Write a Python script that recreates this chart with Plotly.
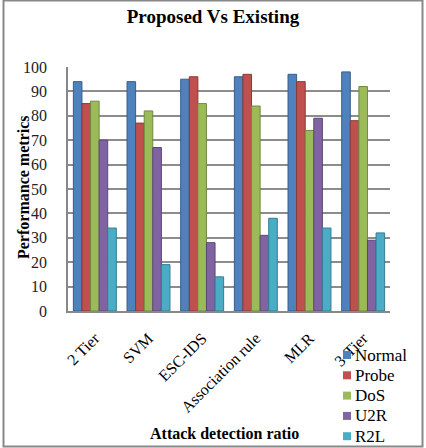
import plotly.graph_objects as go

categories = ["2 Tier", "SVM", "ESC-IDS", "Association rule", "MLR", "3-Tier"]
normal = [94, 94, 95, 96, 97, 98]
probe = [85, 77, 96, 97, 94, 78]
dos = [86, 82, 85, 84, 74, 92]
u2r = [70, 67, 28, 31, 79, 29]
r2l = [34, 19, 14, 38, 34, 32]
y_ticks = list(range(0, 101, 10))

series = [
    ("Normal", normal, "#4F81BD", "#385D8A"),
    ("Probe", probe, "#C0504D", "#8C3836"),
    ("DoS", dos, "#9BBB59", "#71893F"),
    ("U2R", u2r, "#8064A2", "#5C4776"),
    ("R2L", r2l, "#4BACC6", "#357D91"),
]

fig = go.Figure()
for name, vals, col, edge in series:
    fig.add_trace(go.Bar(x=categories, y=vals, name=name, showlegend=False,
                         marker=dict(color=col, line=dict(color=edge, width=1))))

L, R, T, B = 68, 36, 67, 137
W, H = 426, 448
pw, ph = W - L - R, H - T - B

def px(x):
    return (x - L) / pw

def py(y):
    return (H - B - y) / ph

annotations = [
    dict(text="<b>Performance metrics</b>", xref="paper", yref="paper",
         x=px(23), y=py(188), textangle=-90, showarrow=False,
         xanchor="center", yanchor="middle", font=dict(size=16)),
    dict(text="<b>Attack detection ratio</b>", xref="paper", yref="paper",
         x=px(224), y=py(433), showarrow=False,
         xanchor="center", yanchor="middle", font=dict(size=16)),
]
shapes = [dict(type="rect", xref="paper", yref="paper",
               x0=px(3.5), x1=px(422.5), y0=py(446.5), y1=py(0.5),
               line=dict(color="#888888", width=2), layer="below")]

# legend (drawn manually to match the compact spacing of the original)
for i, (name, vals, col, edge) in enumerate(series):
    yc = 355 + 20.3 * i
    shapes.append(dict(type="rect", xref="paper", yref="paper",
                       x0=px(343), x1=px(351), y0=py(yc + 4), y1=py(yc - 4),
                       fillcolor=col, line=dict(width=0)))
    annotations.append(dict(text=name, xref="paper", yref="paper",
                            x=px(353), y=py(yc), showarrow=False,
                            xanchor="left", yanchor="middle",
                            font=dict(size=17)))

fig.update_layout(
    width=W, height=H,
    margin=dict(l=L, r=R, t=T, b=B, autoexpand=False),
    paper_bgcolor="white", plot_bgcolor="white",
    font=dict(family="Liberation Serif", color="black", size=16),
    title=dict(text="<b>Proposed Vs Existing</b>", x=0.5, xanchor="center",
               y=1 - 16 / H, yanchor="middle", font=dict(size=19)),
    barmode="group", bargap=0.2, bargroupgap=0,
    showlegend=False,
    xaxis=dict(tickangle=-45, showgrid=False, showline=True, linecolor="#888888",
               linewidth=1.5, ticks="outside", ticklen=0, tickfont=dict(size=16),
               automargin=False, ticklabelstandoff=10,
               title=dict(text="")),
    yaxis=dict(range=[0, 100], tickvals=y_ticks, showgrid=True, gridcolor="#8C8C8C",
               gridwidth=1.5, zeroline=False, showline=True, linecolor="#888888",
               linewidth=1.5, ticks="outside", ticklen=0, ticklabelstandoff=16,
               tickfont=dict(size=16, color="#222222"), automargin=False,
               title=dict(text="")),
    annotations=annotations,
    shapes=shapes,
)

fig.write_html("out.html")
